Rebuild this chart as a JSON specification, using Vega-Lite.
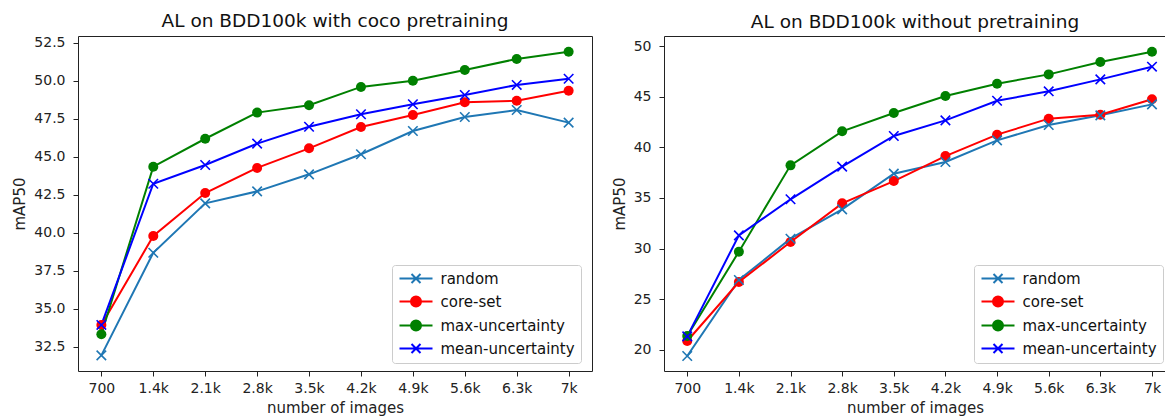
{
  "$schema": "https://vega.github.io/schema/vega-lite/v6.json",
  "background": "white",
  "padding": {"left": 12, "top": 11, "right": 0, "bottom": 0},
  "spacing": 18,
  "datasets": {
    "ap": [
      {"panel": "coco", "series": "random", "n": 700, "map": 31.93},
      {"panel": "coco", "series": "random", "n": 1400, "map": 38.68},
      {"panel": "coco", "series": "random", "n": 2100, "map": 41.93},
      {"panel": "coco", "series": "random", "n": 2800, "map": 42.72},
      {"panel": "coco", "series": "random", "n": 3500, "map": 43.84},
      {"panel": "coco", "series": "random", "n": 4200, "map": 45.16},
      {"panel": "coco", "series": "random", "n": 4900, "map": 46.69},
      {"panel": "coco", "series": "random", "n": 5600, "map": 47.61},
      {"panel": "coco", "series": "random", "n": 6300, "map": 48.07},
      {"panel": "coco", "series": "random", "n": 7000, "map": 47.24},
      {"panel": "coco", "series": "core-set", "n": 700, "map": 33.93},
      {"panel": "coco", "series": "core-set", "n": 1400, "map": 39.78},
      {"panel": "coco", "series": "core-set", "n": 2100, "map": 42.61},
      {"panel": "coco", "series": "core-set", "n": 2800, "map": 44.26},
      {"panel": "coco", "series": "core-set", "n": 3500, "map": 45.55},
      {"panel": "coco", "series": "core-set", "n": 4200, "map": 46.95},
      {"panel": "coco", "series": "core-set", "n": 4900, "map": 47.74},
      {"panel": "coco", "series": "core-set", "n": 5600, "map": 48.58},
      {"panel": "coco", "series": "core-set", "n": 6300, "map": 48.68},
      {"panel": "coco", "series": "core-set", "n": 7000, "map": 49.34},
      {"panel": "coco", "series": "max-uncertainty", "n": 700, "map": 33.32},
      {"panel": "coco", "series": "max-uncertainty", "n": 1400, "map": 44.34},
      {"panel": "coco", "series": "max-uncertainty", "n": 2100, "map": 46.18},
      {"panel": "coco", "series": "max-uncertainty", "n": 2800, "map": 47.9},
      {"panel": "coco", "series": "max-uncertainty", "n": 3500, "map": 48.38},
      {"panel": "coco", "series": "max-uncertainty", "n": 4200, "map": 49.59},
      {"panel": "coco", "series": "max-uncertainty", "n": 4900, "map": 50.0},
      {"panel": "coco", "series": "max-uncertainty", "n": 5600, "map": 50.7},
      {"panel": "coco", "series": "max-uncertainty", "n": 6300, "map": 51.43},
      {"panel": "coco", "series": "max-uncertainty", "n": 7000, "map": 51.9},
      {"panel": "coco", "series": "mean-uncertainty", "n": 700, "map": 33.93},
      {"panel": "coco", "series": "mean-uncertainty", "n": 1400, "map": 43.22},
      {"panel": "coco", "series": "mean-uncertainty", "n": 2100, "map": 44.45},
      {"panel": "coco", "series": "mean-uncertainty", "n": 2800, "map": 45.86},
      {"panel": "coco", "series": "mean-uncertainty", "n": 3500, "map": 46.97},
      {"panel": "coco", "series": "mean-uncertainty", "n": 4200, "map": 47.79},
      {"panel": "coco", "series": "mean-uncertainty", "n": 4900, "map": 48.45},
      {"panel": "coco", "series": "mean-uncertainty", "n": 5600, "map": 49.06},
      {"panel": "coco", "series": "mean-uncertainty", "n": 6300, "map": 49.72},
      {"panel": "coco", "series": "mean-uncertainty", "n": 7000, "map": 50.13},
      {"panel": "scratch", "series": "random", "n": 700, "map": 19.4},
      {"panel": "scratch", "series": "random", "n": 1400, "map": 26.9},
      {"panel": "scratch", "series": "random", "n": 2100, "map": 30.98},
      {"panel": "scratch", "series": "random", "n": 2800, "map": 33.88},
      {"panel": "scratch", "series": "random", "n": 3500, "map": 37.4},
      {"panel": "scratch", "series": "random", "n": 4200, "map": 38.55},
      {"panel": "scratch", "series": "random", "n": 4900, "map": 40.69},
      {"panel": "scratch", "series": "random", "n": 5600, "map": 42.2},
      {"panel": "scratch", "series": "random", "n": 6300, "map": 43.16},
      {"panel": "scratch", "series": "random", "n": 7000, "map": 44.24},
      {"panel": "scratch", "series": "core-set", "n": 700, "map": 20.88},
      {"panel": "scratch", "series": "core-set", "n": 1400, "map": 26.7},
      {"panel": "scratch", "series": "core-set", "n": 2100, "map": 30.65},
      {"panel": "scratch", "series": "core-set", "n": 2800, "map": 34.47},
      {"panel": "scratch", "series": "core-set", "n": 3500, "map": 36.67},
      {"panel": "scratch", "series": "core-set", "n": 4200, "map": 39.14},
      {"panel": "scratch", "series": "core-set", "n": 4900, "map": 41.25},
      {"panel": "scratch", "series": "core-set", "n": 5600, "map": 42.83},
      {"panel": "scratch", "series": "core-set", "n": 6300, "map": 43.22},
      {"panel": "scratch", "series": "core-set", "n": 7000, "map": 44.74},
      {"panel": "scratch", "series": "max-uncertainty", "n": 700, "map": 21.37},
      {"panel": "scratch", "series": "max-uncertainty", "n": 1400, "map": 29.7},
      {"panel": "scratch", "series": "max-uncertainty", "n": 2100, "map": 38.22},
      {"panel": "scratch", "series": "max-uncertainty", "n": 2800, "map": 41.58},
      {"panel": "scratch", "series": "max-uncertainty", "n": 3500, "map": 43.39},
      {"panel": "scratch", "series": "max-uncertainty", "n": 4200, "map": 45.06},
      {"panel": "scratch", "series": "max-uncertainty", "n": 4900, "map": 46.28},
      {"panel": "scratch", "series": "max-uncertainty", "n": 5600, "map": 47.2},
      {"panel": "scratch", "series": "max-uncertainty", "n": 6300, "map": 48.42},
      {"panel": "scratch", "series": "max-uncertainty", "n": 7000, "map": 49.44},
      {"panel": "scratch", "series": "mean-uncertainty", "n": 700, "map": 21.34},
      {"panel": "scratch", "series": "mean-uncertainty", "n": 1400, "map": 31.31},
      {"panel": "scratch", "series": "mean-uncertainty", "n": 2100, "map": 34.87},
      {"panel": "scratch", "series": "mean-uncertainty", "n": 2800, "map": 38.09},
      {"panel": "scratch", "series": "mean-uncertainty", "n": 3500, "map": 41.12},
      {"panel": "scratch", "series": "mean-uncertainty", "n": 4200, "map": 42.66},
      {"panel": "scratch", "series": "mean-uncertainty", "n": 4900, "map": 44.6},
      {"panel": "scratch", "series": "mean-uncertainty", "n": 5600, "map": 45.53},
      {"panel": "scratch", "series": "mean-uncertainty", "n": 6300, "map": 46.71},
      {"panel": "scratch", "series": "mean-uncertainty", "n": 7000, "map": 47.96}
    ]
  },
  "hconcat": [
    {
      "width": 514,
      "height": 335,
      "title": {"text": "AL on BDD100k with coco pretraining", "anchor": "middle"},
      "data": {"name": "ap"},
      "transform": [{"filter": "datum.panel === 'coco'"}],
      "encoding": {
        "x": {"field": "n", "type": "quantitative", "scale": {"domain": [385, 7315], "nice": false, "zero": false},
              "axis": {"values": [700, 1400, 2100, 2800, 3500, 4200, 4900, 5600, 6300, 7000], "labelExpr": "datum.value == 700 ? '700' : datum.value == 7000 ? '7k' : format(datum.value / 1000, '.1f') + 'k'", "title": "number of images"}},
        "y": {"field": "map", "type": "quantitative", "scale": {"domain": [30.9, 52.94], "nice": false, "zero": false},
              "axis": {"values": [32.5, 35, 37.5, 40, 42.5, 45, 47.5, 50, 52.5], "format": ".1f", "title": "mAP50"}}
      },
      "layer": [
        {
          "mark": {"type": "point", "opacity": 0, "filled": false, "strokeWidth": 2},
          "encoding": {
            "shape": {"field": "series", "type": "nominal",
              "scale": {"domain": ["random", "core-set", "max-uncertainty", "mean-uncertainty"],
                        "range": ["M-3.3,0H3.3M-0.9,-0.9L0.9,0.9M-0.9,0.9L0.9,-0.9", "M-3.3,0H3.3M-1,0A1,1,0,1,0,1,0A1,1,0,1,0,-1,0Z", "M-3.3,0H3.3M-1,0A1,1,0,1,0,1,0A1,1,0,1,0,-1,0Z", "M-3.3,0H3.3M-0.9,-0.9L0.9,0.9M-0.9,0.9L0.9,-0.9"]},
              "legend": {"orient": "none", "legendX": 314, "legendY": 229, "title": null}},
            "stroke": {"field": "series", "type": "nominal",
              "scale": {"domain": ["random", "core-set", "max-uncertainty", "mean-uncertainty"], "range": ["#1f77b4", "#ff0000", "#008000", "#0000ff"]},
              "legend": {"orient": "none", "legendX": 314, "legendY": 229, "title": null}},
            "fill": {"field": "series", "type": "nominal",
              "scale": {"domain": ["random", "core-set", "max-uncertainty", "mean-uncertainty"], "range": ["transparent", "#ff0000", "#008000", "transparent"]},
              "legend": {"orient": "none", "legendX": 314, "legendY": 229, "title": null}}
          }
        },
        {
          "mark": {"type": "line", "strokeWidth": 2},
          "encoding": {"stroke": {"field": "series", "type": "nominal", "legend": null}}
        },
        {
          "transform": [{"filter": "datum.series === 'core-set' || datum.series === 'max-uncertainty'"}],
          "mark": {"type": "point", "shape": "circle", "filled": true, "size": 100, "opacity": 1},
          "encoding": {"fill": {"field": "series", "type": "nominal", "legend": null}}
        },
        {
          "transform": [{"filter": "datum.series === 'random' || datum.series === 'mean-uncertainty'"}],
          "mark": {"type": "point", "shape": "M-1,-1L1,1M-1,1L1,-1", "filled": false, "size": 90, "strokeWidth": 1.6, "opacity": 1},
          "encoding": {"stroke": {"field": "series", "type": "nominal", "legend": null}}
        }
      ]
    },
    {
      "width": 502,
      "height": 335,
      "title": {"text": "AL on BDD100k without pretraining", "anchor": "middle"},
      "data": {"name": "ap"},
      "transform": [{"filter": "datum.panel === 'scratch'"}],
      "encoding": {
        "x": {"field": "n", "type": "quantitative", "scale": {"domain": [385, 7190], "nice": false, "zero": false},
              "axis": {"values": [700, 1400, 2100, 2800, 3500, 4200, 4900, 5600, 6300, 7000], "labelExpr": "datum.value == 700 ? '700' : datum.value == 7000 ? '7k' : format(datum.value / 1000, '.1f') + 'k'", "title": "number of images"}},
        "y": {"field": "map", "type": "quantitative", "scale": {"domain": [17.92, 50.99], "nice": false, "zero": false},
              "axis": {"values": [20, 25, 30, 35, 40, 45, 50], "format": "d", "title": "mAP50"}}
      },
      "layer": [
        {
          "mark": {"type": "point", "opacity": 0, "filled": false, "strokeWidth": 2},
          "encoding": {
            "shape": {"field": "series", "type": "nominal",
              "scale": {"domain": ["random", "core-set", "max-uncertainty", "mean-uncertainty"],
                        "range": ["M-3.3,0H3.3M-0.9,-0.9L0.9,0.9M-0.9,0.9L0.9,-0.9", "M-3.3,0H3.3M-1,0A1,1,0,1,0,1,0A1,1,0,1,0,-1,0Z", "M-3.3,0H3.3M-1,0A1,1,0,1,0,1,0A1,1,0,1,0,-1,0Z", "M-3.3,0H3.3M-0.9,-0.9L0.9,0.9M-0.9,0.9L0.9,-0.9"]},
              "legend": {"orient": "none", "legendX": 310, "legendY": 229, "title": null}},
            "stroke": {"field": "series", "type": "nominal",
              "scale": {"domain": ["random", "core-set", "max-uncertainty", "mean-uncertainty"], "range": ["#1f77b4", "#ff0000", "#008000", "#0000ff"]},
              "legend": {"orient": "none", "legendX": 310, "legendY": 229, "title": null}},
            "fill": {"field": "series", "type": "nominal",
              "scale": {"domain": ["random", "core-set", "max-uncertainty", "mean-uncertainty"], "range": ["transparent", "#ff0000", "#008000", "transparent"]},
              "legend": {"orient": "none", "legendX": 310, "legendY": 229, "title": null}}
          }
        },
        {
          "mark": {"type": "line", "strokeWidth": 2},
          "encoding": {"stroke": {"field": "series", "type": "nominal", "legend": null}}
        },
        {
          "transform": [{"filter": "datum.series === 'core-set' || datum.series === 'max-uncertainty'"}],
          "mark": {"type": "point", "shape": "circle", "filled": true, "size": 100, "opacity": 1},
          "encoding": {"fill": {"field": "series", "type": "nominal", "legend": null}}
        },
        {
          "transform": [{"filter": "datum.series === 'random' || datum.series === 'mean-uncertainty'"}],
          "mark": {"type": "point", "shape": "M-1,-1L1,1M-1,1L1,-1", "filled": false, "size": 90, "strokeWidth": 1.6, "opacity": 1},
          "encoding": {"stroke": {"field": "series", "type": "nominal", "legend": null}}
        }
      ]
    }
  ],
  "resolve": {
    "scale": {"stroke": "independent", "fill": "independent", "shape": "independent"},
    "legend": {"stroke": "independent", "fill": "independent", "shape": "independent"}
  },
  "config": {
    "font": "DejaVu Sans",
    "view": {"stroke": "#222", "strokeWidth": 1},
    "axis": {"grid": false, "domain": false, "tickColor": "#222", "tickSize": 5, "tickWidth": 1, "labelFontSize": 14, "labelColor": "#222", "titleFontSize": 15, "titleFontWeight": "normal", "titleColor": "#222"},
    "axisX": {"labelPadding": 5, "titlePadding": 5},
    "axisY": {"labelPadding": 8, "titlePadding": 6},
    "title": {"fontSize": 18.5, "fontWeight": "normal", "color": "#111", "offset": 5, "baseline": "alphabetic"},
    "legend": {"padding": 6, "rowPadding": 5, "labelOffset": 17, "symbolOffset": 10.5, "labelFontSize": 15, "labelColor": "#111", "labelLimit": 300, "symbolSize": 100, "symbolStrokeWidth": 2, "symbolOpacity": 1, "strokeColor": "#cccccc", "fillColor": "white", "cornerRadius": 3}
  }
}
